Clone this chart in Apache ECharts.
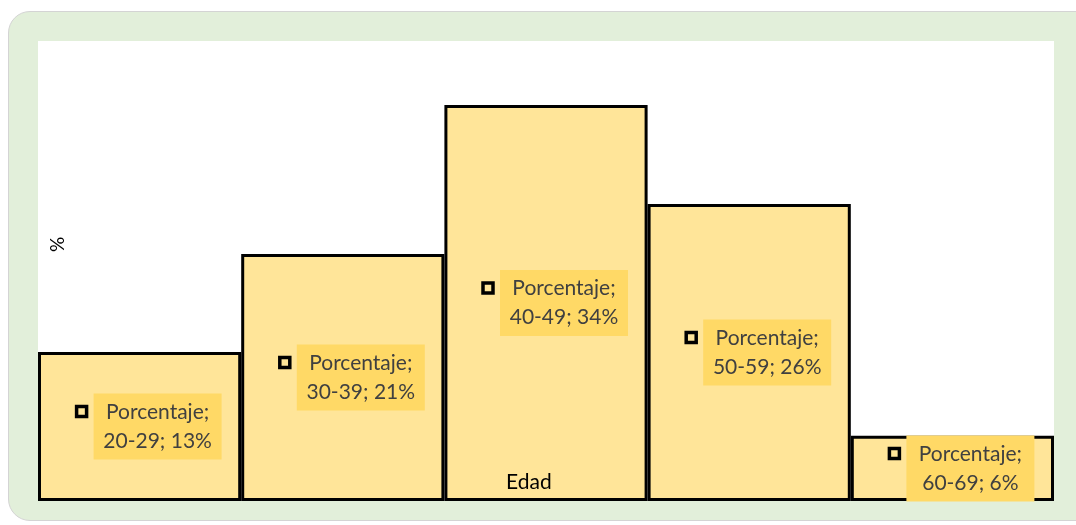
<!DOCTYPE html>
<html>
<head>
<meta charset="utf-8">
<script src="https://cdn.jsdelivr.net/npm/echarts@6/dist/echarts.min.js"></script>
<style>
  html, body { margin: 0; padding: 0; background: #ffffff; }
  #frame { position: absolute; left: 8px; top: 11px; width: 1090px; height: 510px;
           background: #E2EFDA; border: 1px solid #D4D4D4; border-radius: 22px; box-sizing: border-box; }
  #chart { position: absolute; left: 0; top: 0; width: 1076px; height: 525px; }
</style>
</head>
<body>
<div id="frame"></div>
<div id="chart"></div>
<script>
const seriesName = 'Porcentaje';
const categories = ['20-29', '30-39', '40-49', '50-59', '60-69'];
const values = [12.8, 21.2, 34, 25.5, 5.6];
const labelValues = [13, 21, 34, 26, 6];
const xAxisName = 'Edad';
const yAxisName = '%';

const FONT = 'Lato, "Liberation Sans", sans-serif';
const chart = echarts.init(document.getElementById('chart'), null, { renderer: 'canvas' });

const option = {
  animation: false,
  backgroundColor: 'transparent',
  grid: { left: 38, top: 41, right: 22, bottom: 24, show: true, backgroundColor: '#ffffff', borderWidth: 0 },
  xAxis: {
    type: 'category',
    data: categories,
    axisLine: { show: false },
    axisTick: { show: false },
    axisLabel: { show: false },
    splitLine: { show: false }
  },
  yAxis: {
    type: 'value',
    min: 0,
    max: 39.5,
    show: false,
    splitLine: { show: false }
  },
  graphic: [
    { type: 'text', z: 100, left: 506, top: 472, style: { text: xAxisName, width: 80, align: 'center', fontSize: 21, fontFamily: FONT, fill: '#000000' } },
    { type: 'text', z: 100, x: 48, y: 252, rotation: Math.PI / 2, style: { text: yAxisName, fontSize: 19, fontFamily: FONT, fill: '#000000' } }
  ],
  series: [
    {
      name: seriesName,
      type: 'bar',
      data: values,
      barWidth: '100%',
      itemStyle: { color: '#FFE599', borderColor: '#000000', borderWidth: 3 },
      label: {
        show: true,
        position: 'inside',
        offset: [18, 0],
        formatter: (p) => seriesName + ';\n' + categories[p.dataIndex] + '; ' + labelValues[p.dataIndex] + '%',
        backgroundColor: '#FFD966',
        padding: [4, 6, 4, 6],
        width: 116,
        align: 'center',
        lineHeight: 29,
        fontSize: 21,
        fontFamily: FONT,
        color: '#404040'
      },
      z: 2
    },
    {
      name: seriesName + '-key',
      type: 'scatter',
      data: values.map(v => v / 2),
      symbol: 'rect',
      symbolSize: 10,
      symbolOffset: [-58, -15],
      itemStyle: { color: '#FFE599', borderColor: '#000000', borderWidth: 3.5, opacity: 1 },
      z: 5,
      silent: true
    }
  ]
};
chart.setOption(option);
</script>
</body>
</html>
